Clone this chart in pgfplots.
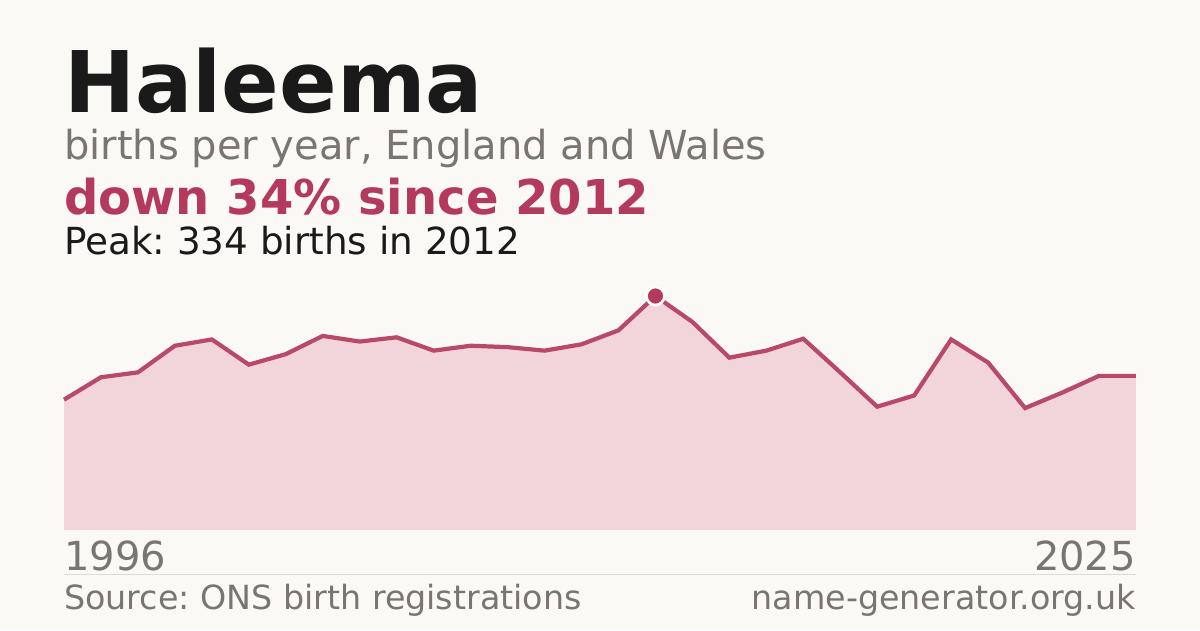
\documentclass[border=0pt]{standalone}
\usepackage{fontspec}
\setmainfont{DejaVu Sans}
\usepackage{pgfplots}
\usepackage{pgfplotstable}
\pgfplotsset{compat=1.18}
\frenchspacing

\definecolor{bg}{HTML}{FAF9F5}
\definecolor{ink}{HTML}{1A1A1A}
\definecolor{muted}{HTML}{7A756E}
\definecolor{accent}{HTML}{B33A5A}
\definecolor{areafill}{HTML}{F1D5DB}
\definecolor{rule}{HTML}{DEDBD6}

% births per year
\pgfplotstableread{
year births
1996 186
1997 218
1998 225
1999 263
2000 272
2001 236
2002 251
2003 277
2004 269
2005 275
2006 256
2007 263
2008 261
2009 256
2010 265
2011 285
2012 334
2013 297
2014 246
2015 256
2016 273
2017 225
2018 176
2019 192
2020 272
2021 239
2022 174
2023 196
2024 220
2025 220
}\births

\begin{document}
\begin{tikzpicture}[x=1pt,y=1pt]
\fill[bg] (0,0) rectangle (1200,630);

\node[anchor=base west,inner sep=0,text=ink] at (64,517)
  {\fontsize{85}{92}\selectfont\bfseries Haleema};
\node[anchor=base west,inner sep=0,text=muted] at (64,470)
  {\fontsize{40}{46}\selectfont births per year, England and Wales};
\node[anchor=base west,inner sep=0,text=accent] at (64,415.5)
  {\fontsize{48}{54}\selectfont\bfseries down 34\% since 2012};
\node[anchor=base west,inner sep=0,text=ink] at (64,375.5)
  {\fontsize{37.3}{42}\selectfont Peak: 334 births in 2012};

\begin{axis}[
    at={(64pt,100pt)}, anchor=south west,
    scale only axis,
    width=1072pt, height=234pt,
    xmin=1996, xmax=2025,
    ymin=0, ymax=334,
    axis lines=none,
    ticks=none,
    clip=false,
]
\addplot[fill=areafill, draw=none] table[x=year,y=births] {\births} \closedcycle;
\addplot[accent!92!white, line width=4.2pt, line cap=butt, line join=miter] table[x=year,y=births] {\births};
\addplot[only marks, mark=*, mark size=9pt,
    mark options={fill=accent, draw=white, line width=2.6pt}]
    coordinates {(2012,334)};
\end{axis}

\node[anchor=base west,inner sep=0,text=muted] at (64,60)
  {\fontsize{40}{46}\selectfont 1996};
\node[anchor=base east,inner sep=0,text=muted] at (1136,60)
  {\fontsize{40}{46}\selectfont 2025};
\draw[rule, line width=1pt] (64,56) -- (1136,56);
\node[anchor=base west,inner sep=0,text=muted] at (64,20.5)
  {\fontsize{33.3}{38}\selectfont Source: ONS birth registrations};
\node[anchor=base east,inner sep=0,text=muted] at (1136,20.5)
  {\fontsize{33.3}{38}\selectfont name-generator.org.uk};

\pgfresetboundingbox
\useasboundingbox (0,0) rectangle (1200,630);
\end{tikzpicture}
\end{document}
